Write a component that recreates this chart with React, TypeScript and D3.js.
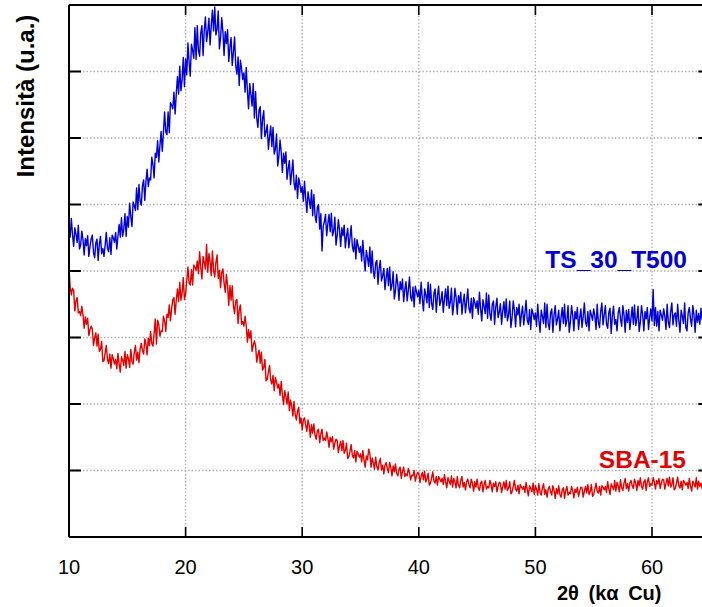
import React from 'react';
import * as d3 from 'd3';

const xTicks = [10, 20, 30, 40, 50, 60];
const xGrid = [20, 30, 40, 50, 60];
const yTicks = [1, 2, 3, 4, 5, 6, 7];
const seriesNames = ['TS_30_T500', 'SBA-15'];
const xTitle = '2θ (kα Cu)';
const yTitle = 'Intensità (u.a.)';

const tsValues = [
  4.71, 4.51, 4.79, 4.55, 4.37, 4.65, 4.55, 4.43, 4.69, 4.33,
  4.39, 4.60, 4.47, 4.24, 4.49, 4.38, 4.53, 4.22, 4.37, 4.48,
  4.54, 4.28, 4.20, 4.42, 4.48, 4.16, 4.40, 4.52, 4.26, 4.34,
  4.22, 4.39, 4.58, 4.34, 4.29, 4.50, 4.25, 4.54, 4.50, 4.43,
  4.58, 4.33, 4.53, 4.70, 4.51, 4.80, 4.52, 4.63, 4.86, 4.52,
  4.82, 4.66, 5.02, 4.82, 4.67, 5.04, 4.98, 4.91, 5.25, 4.92,
  5.30, 5.05, 4.99, 5.28, 5.37, 5.06, 5.35, 5.53, 5.27, 5.40,
  5.37, 5.71, 5.61, 5.40, 5.77, 5.71, 5.96, 5.64, 5.89, 6.10,
  5.80, 6.09, 6.39, 6.09, 6.05, 6.39, 6.08, 6.53, 6.50, 6.44,
  6.69, 6.36, 6.66, 6.92, 6.66, 7.08, 6.71, 6.88, 7.21, 6.77,
  7.19, 6.95, 7.43, 7.14, 6.93, 7.41, 7.32, 7.20, 7.66, 7.18,
  7.69, 7.32, 7.23, 7.58, 7.69, 7.24, 7.62, 7.82, 7.45, 7.60,
  7.80, 7.40, 7.69, 7.92, 7.61, 7.97, 7.55, 7.64, 7.91, 7.34,
  7.51, 7.81, 7.60, 7.24, 7.60, 7.42, 7.63, 7.15, 7.36, 7.51,
  7.09, 7.29, 7.52, 7.09, 6.96, 7.22, 6.79, 7.17, 7.04, 6.88,
  6.98, 6.69, 7.06, 6.71, 6.44, 6.82, 6.66, 6.48, 6.82, 6.30,
  6.70, 6.30, 6.16, 6.42, 6.47, 5.99, 6.29, 6.41, 6.02, 6.09,
  6.20, 5.83, 6.02, 6.18, 5.87, 6.16, 5.76, 5.83, 6.06, 5.58,
  5.72, 5.97, 5.79, 5.48, 5.77, 5.62, 5.79, 5.38, 5.54, 5.66,
  5.30, 5.48, 5.67, 5.32, 5.22, 5.44, 5.09, 5.40, 5.31, 5.18,
  5.27, 5.05, 5.35, 5.09, 4.88, 5.19, 5.07, 4.94, 5.22, 4.83,
  5.15, 4.84, 4.73, 4.96, 5.00, 4.63, 4.86, 4.30, 4.67, 4.74,
  4.85, 4.53, 4.71, 4.85, 4.59, 4.87, 4.53, 4.60, 4.81, 4.39,
  4.53, 4.77, 4.62, 4.37, 4.65, 4.53, 4.69, 4.35, 4.52, 4.64,
  4.35, 4.50, 4.68, 4.37, 4.29, 4.49, 4.18, 4.47, 4.38, 4.28,
  4.37, 4.15, 4.46, 4.20, 4.00, 4.31, 4.20, 4.07, 4.36, 3.97,
  4.30, 3.99, 3.89, 4.12, 4.16, 3.80, 4.04, 4.16, 3.85, 3.93,
  4.04, 3.72, 3.90, 4.04, 3.78, 4.06, 3.71, 3.79, 3.99, 3.58,
  3.71, 3.95, 3.80, 3.56, 3.84, 3.72, 3.88, 3.54, 3.72, 3.84,
  3.55, 3.71, 3.91, 3.61, 3.55, 3.76, 3.46, 3.77, 3.69, 3.61,
  3.71, 3.51, 3.83, 3.59, 3.40, 3.73, 3.64, 3.52, 3.83, 3.45,
  3.80, 3.51, 3.42, 3.67, 3.73, 3.38, 3.63, 3.77, 3.48, 3.56,
  3.69, 3.38, 3.58, 3.73, 3.48, 3.77, 3.44, 3.53, 3.74, 3.34,
  3.49, 3.74, 3.60, 3.35, 3.63, 3.52, 3.68, 3.35, 3.53, 3.65,
  3.37, 3.54, 3.73, 3.44, 3.37, 3.59, 3.29, 3.60, 3.53, 3.44,
  3.55, 3.35, 3.68, 3.43, 3.25, 3.57, 3.47, 3.36, 3.67, 3.29,
  3.64, 3.35, 3.26, 3.50, 3.55, 3.20, 3.46, 3.59, 3.30, 3.38,
  3.51, 3.20, 3.40, 3.54, 3.30, 3.58, 3.25, 3.34, 3.55, 3.15,
  3.30, 3.55, 3.41, 3.16, 3.45, 3.34, 3.50, 3.17, 3.35, 3.47,
  3.19, 3.36, 3.56, 3.26, 3.20, 3.42, 3.12, 3.43, 3.36, 3.27,
  3.37, 3.17, 3.50, 3.26, 3.08, 3.41, 3.32, 3.21, 3.52, 3.15,
  3.50, 3.21, 3.12, 3.37, 3.43, 3.08, 3.34, 3.48, 3.19, 3.28,
  3.41, 3.10, 3.30, 3.45, 3.21, 3.50, 3.17, 3.26, 3.48, 3.08,
  3.23, 3.48, 3.34, 3.10, 3.39, 3.28, 3.45, 3.12, 3.30, 3.43,
  3.15, 3.32, 3.52, 3.23, 3.17, 3.39, 3.10, 3.41, 3.34, 3.26,
  3.43, 3.32, 3.12, 3.50, 3.23, 3.15, 3.39, 3.52, 3.19, 3.34,
  3.48, 3.20, 3.14, 3.38, 3.44, 3.06, 3.33, 3.47, 3.20, 3.27,
  3.10, 3.37, 3.45, 3.28, 3.17, 3.48, 3.34, 3.08, 3.41, 3.23,
  3.42, 3.12, 3.29, 3.46, 3.20, 3.49, 3.18, 3.27, 3.47, 3.09,
  3.23, 3.48, 3.34, 3.10, 3.39, 3.28, 3.45, 3.12, 3.30, 3.43,
  3.25, 3.72, 3.18, 3.45, 3.17, 3.39, 3.10, 3.41, 3.34, 3.26,
  3.43, 3.32, 3.12, 3.50, 3.23, 3.15, 3.39, 3.52, 3.19, 3.34,
  3.37, 3.17, 3.50, 3.26, 3.08, 3.41, 3.32, 3.21, 3.52, 3.15,
  3.10, 3.37, 3.45, 3.28, 3.17, 3.48, 3.34, 3.08, 3.41, 3.23,
  3.36, 3.20, 3.44, 3.27, 3.33,
];

const sbaValues = [
  4.04, 3.77, 3.64, 3.74, 3.71, 3.40, 3.55, 3.60, 3.37, 3.39,
  3.33, 3.47, 3.34, 3.14, 3.31, 3.20, 3.29, 3.03, 3.12, 3.17,
  3.13, 2.88, 2.99, 3.07, 2.87, 3.05, 2.79, 2.82, 2.94, 2.64,
  2.65, 2.77, 2.88, 2.67, 2.61, 2.75, 2.54, 2.74, 2.68, 2.60,
  2.67, 2.53, 2.76, 2.60, 2.48, 2.71, 2.66, 2.58, 2.79, 2.54,
  2.74, 2.68, 2.55, 2.82, 2.64, 2.60, 2.78, 2.88, 2.66, 2.78,
  2.62, 2.83, 2.91, 2.80, 2.75, 2.98, 2.90, 2.74, 2.99, 2.88,
  3.09, 2.91, 2.87, 3.06, 3.28, 2.90, 3.26, 3.20, 3.02, 3.10,
  3.09, 3.32, 3.25, 3.09, 3.35, 3.30, 3.49, 3.25, 3.43, 3.57,
  3.60, 3.35, 3.56, 3.73, 3.54, 3.83, 3.56, 3.67, 3.90, 3.57,
  3.66, 3.85, 4.06, 3.82, 3.79, 4.02, 3.79, 4.09, 4.06, 4.01,
  4.15, 3.96, 4.29, 4.06, 3.88, 4.22, 4.13, 4.03, 4.40, 3.98,
  4.26, 4.14, 3.93, 4.30, 4.01, 3.91, 4.13, 4.24, 3.89, 4.01,
  3.75, 3.98, 4.03, 3.82, 3.68, 3.95, 3.78, 3.48, 3.78, 3.56,
  3.78, 3.48, 3.36, 3.55, 3.57, 3.21, 3.41, 3.49, 3.20, 3.24,
  3.17, 3.32, 3.18, 2.93, 3.12, 2.99, 3.10, 2.79, 2.88, 2.95,
  2.88, 2.63, 2.74, 2.81, 2.61, 2.78, 2.51, 2.55, 2.67, 2.35,
  2.37, 2.48, 2.58, 2.36, 2.30, 2.43, 2.20, 2.40, 2.33, 2.24,
  2.30, 2.13, 2.34, 2.14, 1.99, 2.20, 2.11, 2.00, 2.18, 1.90,
  2.06, 1.97, 1.82, 2.04, 1.84, 1.76, 1.89, 1.95, 1.71, 1.79,
  1.61, 1.76, 1.79, 1.68, 1.59, 1.76, 1.68, 1.50, 1.69, 1.56,
  1.70, 1.53, 1.47, 1.60, 1.62, 1.42, 1.55, 1.62, 1.45, 1.49,
  1.45, 1.58, 1.49, 1.35, 1.50, 1.43, 1.51, 1.32, 1.41, 1.47,
  1.45, 1.27, 1.37, 1.44, 1.30, 1.45, 1.26, 1.30, 1.41, 1.18,
  1.21, 1.29, 1.39, 1.23, 1.19, 1.30, 1.13, 1.29, 1.25, 1.20,
  1.25, 1.13, 1.30, 1.16, 1.05, 1.22, 1.16, 1.32, 1.26, 1.05,
  1.19, 1.12, 1.02, 1.20, 1.06, 1.01, 1.12, 1.18, 1.01, 1.08,
  0.95, 1.08, 1.12, 1.03, 0.97, 1.12, 1.05, 0.92, 1.07, 0.98,
  1.10, 0.96, 0.92, 1.02, 1.05, 0.88, 0.99, 1.05, 0.91, 0.95,
  0.92, 1.03, 0.97, 0.86, 0.93, 0.92, 1.00, 0.84, 0.92, 0.97,
  0.96, 0.82, 0.91, 0.97, 0.86, 0.99, 0.83, 0.87, 0.96, 0.78,
  0.81, 0.89, 0.98, 0.84, 0.81, 0.91, 0.78, 0.91, 0.87, 0.83,
  0.88, 0.79, 0.94, 0.83, 0.74, 0.89, 0.84, 0.79, 0.92, 0.75,
  0.88, 0.83, 0.74, 0.91, 0.78, 0.74, 0.85, 0.91, 0.75, 0.82,
  0.71, 0.83, 0.87, 0.79, 0.74, 0.87, 0.81, 0.69, 0.83, 0.75,
  0.87, 0.74, 0.70, 0.81, 0.84, 0.68, 0.79, 0.85, 0.72, 0.76,
  0.74, 0.85, 0.79, 0.68, 0.81, 0.76, 0.83, 0.68, 0.76, 0.82,
  0.81, 0.67, 0.76, 0.83, 0.72, 0.85, 0.70, 0.74, 0.83, 0.65,
  0.68, 0.76, 0.85, 0.72, 0.69, 0.78, 0.65, 0.79, 0.75, 0.72,
  0.76, 0.67, 0.82, 0.71, 0.62, 0.77, 0.73, 0.68, 0.81, 0.64,
  0.77, 0.72, 0.63, 0.80, 0.67, 0.63, 0.74, 0.80, 0.64, 0.71,
  0.60, 0.72, 0.76, 0.68, 0.63, 0.77, 0.70, 0.58, 0.73, 0.65,
  0.77, 0.64, 0.60, 0.71, 0.74, 0.58, 0.70, 0.76, 0.63, 0.67,
  0.65, 0.76, 0.70, 0.59, 0.72, 0.67, 0.75, 0.61, 0.69, 0.75,
  0.74, 0.60, 0.69, 0.76, 0.66, 0.79, 0.64, 0.68, 0.79, 0.61,
  0.64, 0.72, 0.81, 0.69, 0.66, 0.76, 0.63, 0.77, 0.75, 0.71,
  0.76, 0.67, 0.83, 0.72, 0.64, 0.80, 0.76, 0.71, 0.85, 0.69,
  0.82, 0.77, 0.68, 0.86, 0.74, 0.70, 0.81, 0.88, 0.73, 0.80,
  0.69, 0.81, 0.85, 0.77, 0.73, 0.87, 0.81, 0.70, 0.85, 0.77,
  0.89, 0.76, 0.72, 0.83, 0.86, 0.70, 0.83, 0.89, 0.76, 0.80,
  0.78, 0.89, 0.83, 0.72, 0.85, 0.80, 0.88, 0.73, 0.81, 0.87,
  0.86, 0.72, 0.81, 0.88, 0.77, 0.90, 0.75, 0.79, 0.89, 0.71,
  0.73, 0.81, 0.90, 0.77, 0.74, 0.84, 0.71, 0.85, 0.82, 0.78,
  0.82, 0.73, 0.88, 0.77, 0.69, 0.84, 0.80, 0.75, 0.89, 0.72,
  0.84, 0.76, 0.81, 0.73, 0.80,
];

const twoTheta = tsValues.map((_, i) => 10 + i * 0.1);

const BLUE = '#0000d2';
const RED = '#e00000';
const FONT = "'Liberation Sans', Arial, Helvetica, sans-serif";

export default function App() {
  const W = 702;
  const H = 607;
  const left = 69, top = 5, bottom = 537, right = 702;
  const x = d3.scaleLinear().domain([10, 65]).range([69, 710.3]);
  const y = d3.scaleLinear().domain([0, 8]).range([bottom, top]);
  const line = d3
    .line<number>()
    .x((_, i) => x(twoTheta[i]))
    .y((d) => y(d));

  return (
    <svg
      width={W}
      height={H}
      style={{ position: 'absolute', left: 0, top: 0, background: '#fff' }}
      fontFamily={FONT}
    >
      <defs>
        <clipPath id="plot">
          <rect x={left} y={top} width={right - left} height={bottom - top} />
        </clipPath>
      </defs>
      <rect x={0} y={0} width={W} height={H} fill="#fff" />
      {yTicks.map((v) => (
        <line
          key={'gy' + v}
          x1={left}
          x2={right}
          y1={y(v)}
          y2={y(v)}
          stroke="#b0b0b0"
          strokeWidth={1.3}
          strokeDasharray="1.5 2"
        />
      ))}
      {xGrid.map((v) => (
        <line
          key={'gx' + v}
          x1={x(v)}
          x2={x(v)}
          y1={top}
          y2={bottom}
          stroke="#b0b0b0"
          strokeWidth={1.3}
          strokeDasharray="1.5 2"
        />
      ))}
      <g clipPath="url(#plot)" fill="none" strokeWidth={1.4} strokeLinejoin="round">
        <path d={line(sbaValues) || ''} stroke={RED} />
        <path d={line(tsValues) || ''} stroke={BLUE} />
      </g>
      <line x1={left} x2={right} y1={bottom} y2={bottom} stroke="#000" strokeWidth={2} />
      <line x1={left} x2={right} y1={top} y2={top} stroke="#000" strokeWidth={2} />
      <line x1={left} x2={left} y1={top} y2={bottom} stroke="#000" strokeWidth={2} />
      <line x1={x(65)} x2={x(65)} y1={top} y2={bottom} stroke="#000" strokeWidth={2} />
      {yTicks.map((v) => (
        <g key={'ty' + v}>
          <line x1={left} x2={left + 12} y1={y(v)} y2={y(v)} stroke="#000" strokeWidth={2} />
          <line x1={x(65) - 12} x2={x(65)} y1={y(v)} y2={y(v)} stroke="#000" strokeWidth={2} />
        </g>
      ))}
      {xTicks.map((v) => (
        <g key={'tx' + v}>
          <line x1={x(v)} x2={x(v)} y1={bottom} y2={bottom - 10} stroke="#000" strokeWidth={1.6} />
          <line x1={x(v)} x2={x(v)} y1={top} y2={top + 10} stroke="#000" strokeWidth={1.6} />
          <text x={x(v)} y={574} textAnchor="middle" fontSize={20} fill="#000">
            {v}
          </text>
        </g>
      ))}
      <text x={557} y={600} fontSize={20} fontWeight="bold" fill="#000" wordSpacing={4}>
        {xTitle}
      </text>
      <text
        transform={`translate(34, 96) rotate(-90)`}
        textAnchor="middle"
        fontSize={24}
        fontWeight="bold"
        fill="#000"
      >
        {yTitle}
      </text>
      <text x={687} y={268} textAnchor="end" fontSize={24.5} fontWeight="bold" fill={BLUE}>
        {seriesNames[0]}
      </text>
      <text x={686} y={468} textAnchor="end" fontSize={24.5} fontWeight="bold" fill={RED}>
        {seriesNames[1]}
      </text>
    </svg>
  );
}
